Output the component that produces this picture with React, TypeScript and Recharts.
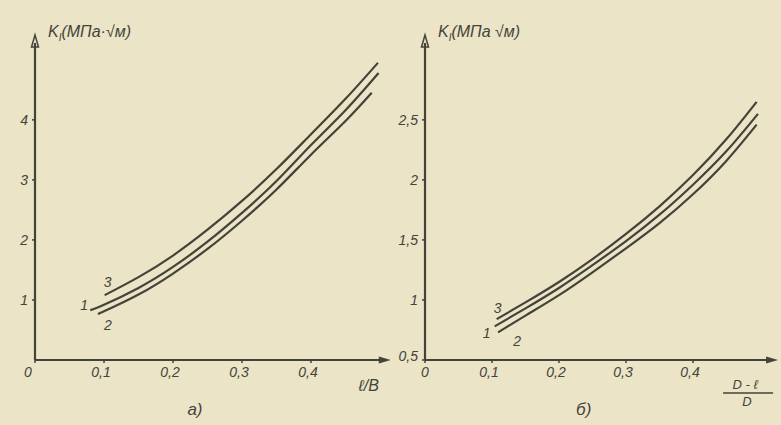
import React from 'react';
import { LineChart, Line, XAxis, YAxis, ReferenceDot } from 'recharts';

// а) K_I against l/B, curves 1, 2, 3
const aX1 = [0.08, 0.1, 0.15, 0.2, 0.25, 0.3, 0.35, 0.4, 0.45, 0.498];
const aK1 = [0.83, 0.92, 1.2, 1.55, 1.97, 2.45, 2.98, 3.58, 4.16, 4.78];
const aX2 = [0.094, 0.1, 0.15, 0.2, 0.25, 0.3, 0.35, 0.4, 0.45, 0.488];
const aK2 = [0.78, 0.81, 1.09, 1.44, 1.85, 2.32, 2.84, 3.42, 3.98, 4.45];
const aX3 = [0.101, 0.15, 0.2, 0.25, 0.3, 0.35, 0.4, 0.45, 0.497];
const aK3 = [1.08, 1.38, 1.74, 2.17, 2.65, 3.18, 3.76, 4.35, 4.95];

// б) K_I against (D-l)/D, curves 1, 2, 3
const bX1 = [0.104, 0.15, 0.2, 0.25, 0.3, 0.35, 0.4, 0.45, 0.497];
const bK1 = [0.78, 0.93, 1.1, 1.29, 1.49, 1.71, 1.96, 2.24, 2.55];
const bX2 = [0.109, 0.15, 0.2, 0.25, 0.3, 0.35, 0.4, 0.45, 0.495];
const bK2 = [0.73, 0.87, 1.04, 1.23, 1.43, 1.64, 1.88, 2.16, 2.46];
const bX3 = [0.107, 0.15, 0.2, 0.25, 0.3, 0.35, 0.4, 0.45, 0.495];
const bK3 = [0.84, 0.98, 1.15, 1.34, 1.55, 1.78, 2.04, 2.34, 2.65];

const xTicks = [0, 0.1, 0.2, 0.3, 0.4];
const aYTicks = [1, 2, 3, 4];
const bYTicks = [0.5, 1, 1.5, 2, 2.5];

const INK = '#44433a';
const PAPER = '#ebe4c7';
const FONT = '"Liberation Sans", "DejaVu Sans", sans-serif';

const toPoints = (xs: number[], ks: number[]) => xs.map((x, i) => ({ x, k: ks[i] }));
const fmt = (v: number) => String(v).replace('.', ',');

const XTick = ({ x, y, payload, zeroDx = 0 }: any) => (
  <text
    x={payload.value === 0 ? x + zeroDx : x - 3}
    y={y + 12}
    textAnchor="middle"
    fontSize={14}
    fontStyle="italic"
    fontFamily={FONT}
    fill={INK}
  >
    {fmt(payload.value)}
  </text>
);

const YTick = ({ x, y, payload, lift = 0 }: any) => (
  <text
    x={x - 2}
    y={y + 5 - (payload.value === 0.5 ? lift : 0)}
    textAnchor="end"
    fontSize={14}
    fontStyle="italic"
    fontFamily={FONT}
    fill={INK}
  >
    {fmt(payload.value)}
  </text>
);

const ArrowRight = ({ cx, cy }: any) => (
  <polygon points={`${cx + 8},${cy} ${cx - 4},${cy - 3.5} ${cx - 4},${cy + 3.5}`} fill={INK} />
);
const ArrowUp = ({ cx, cy }: any) => (
  <polygon points={`${cx},${cy - 8} ${cx - 3.5},${cy + 4} ${cx + 3.5},${cy + 4}`} fill="none" stroke={INK} strokeWidth={1.5} />
);

const curveLabel = (name: string, dx: number, dy: number) => (p: any) =>
  p.index === 0 ? (
    <text
      key={name}
      x={p.x + dx}
      y={p.y + dy}
      textAnchor="middle"
      fontSize={14}
      fontStyle="italic"
      fontFamily={FONT}
      fill={INK}
    >
      {name}
    </text>
  ) : null;

interface PanelProps {
  width: number;
  pxPerUnit: number;
  xMax: number;
  yMin: number;
  yMax: number;
  yTicks: number[];
  curves: { name: string; data: { x: number; k: number }[]; dx: number; dy: number }[];
  sep: string;
  xTitle: 'lb' | 'dl';
  caption: string;
  zeroDx: number;
  lift: number;
}

function Panel({ width, pxPerUnit, xMax, yMin, yMax, yTicks, curves, sep, xTitle, caption, zeroDx, lift }: PanelProps) {
  const yTitle = (p: any) => {
    const vb = p.viewBox || { x: 0, y: 43, width: 35 };
    return (
      <text x={vb.x + vb.width + 13} y={vb.y - 6} fontSize={16} fontStyle="italic" fontFamily={FONT} fill={INK}>
        <tspan>K</tspan>
        <tspan dy={4} fontSize={10}>I</tspan>
        <tspan dy={-4}>{`(МПа${sep}√м)`}</tspan>
      </text>
    );
  };

  const xTitleLabel = (p: any) => {
    const vb = p.viewBox || { x: 35, y: 360, width: 348 };
    const right = vb.x + vb.width;
    return (
      <g fontStyle="italic" fontFamily={FONT} fill={INK}>
        {xTitle === 'lb' ? (
          <text x={right - 14} y={vb.y + 31} textAnchor="middle" fontSize={16}>
            ℓ/B
          </text>
        ) : (
          <g>
            <text x={right - 25} y={vb.y + 29} textAnchor="middle" fontSize={13}>
              D - ℓ
            </text>
            <line x1={right - 47} x2={right + 3} y1={vb.y + 33} y2={vb.y + 33} stroke={INK} strokeWidth={1.5} />
            <text x={right - 23} y={vb.y + 46} textAnchor="middle" fontSize={13}>
              D
            </text>
          </g>
        )}
        <text x={vb.x + vb.width * 0.46} y={vb.y + 55} textAnchor="middle" fontSize={17}>
          {caption}
        </text>
      </g>
    );
  };

  return (
    <LineChart width={width} height={425} margin={{ top: 43, right: width - 35 - xMax * pxPerUnit, bottom: 0, left: 0 }}>
      <XAxis
        type="number"
        dataKey="x"
        domain={[0, xMax]}
        ticks={xTicks}
        allowDataOverflow
        height={65}
        axisLine={{ stroke: INK, strokeWidth: 2.2 }}
        tickLine={{ stroke: INK, strokeWidth: 1.5 }}
        tickSize={3}
        tick={<XTick zeroDx={zeroDx} />}
        label={xTitleLabel}
      />
      <YAxis
        type="number"
        dataKey="k"
        domain={[yMin, yMax]}
        ticks={yTicks}
        allowDataOverflow
        width={35}
        axisLine={{ stroke: INK, strokeWidth: 2.2 }}
        tickLine={{ stroke: INK, strokeWidth: 1.5 }}
        tickSize={3}
        tick={<YTick lift={lift} />}
        label={yTitle}
      />
      {curves.map((c) => (
        <Line
          key={c.name}
          data={c.data}
          dataKey="k"
          type="natural"
          stroke={INK}
          strokeWidth={2.2}
          dot={false}
          isAnimationActive={false}
          label={curveLabel(c.name, c.dx, c.dy)}
        />
      ))}
      <ReferenceDot x={xMax} y={yMin} r={0} ifOverflow="visible" shape={<ArrowRight />} />
      <ReferenceDot x={0} y={yMax} r={0} ifOverflow="visible" shape={<ArrowUp />} />
    </LineChart>
  );
}

export default function App() {
  return (
    <div style={{ width: 781, height: 425, background: PAPER, display: 'flex', overflow: 'hidden' }}>
      <style>{'body{margin:0}'}</style>
      <Panel
        width={390}
        pxPerUnit={690}
        xMax={0.504}
        yMin={0}
        yMax={5.28}
        yTicks={aYTicks}
        sep="·"
        xTitle="lb"
        caption="а)"
        zeroDx={-7}
        lift={0}
        curves={[
          { name: '1', data: toPoints(aX1, aK1), dx: -6, dy: 0 },
          { name: '2', data: toPoints(aX2, aK2), dx: 8, dy: 17 },
          { name: '3', data: toPoints(aX3, aK3), dx: 3, dy: -8 },
        ]}
      />
      <Panel
        width={391}
        pxPerUnit={670}
        xMax={0.515}
        yMin={0.5}
        yMax={3.14}
        yTicks={bYTicks}
        sep=" "
        xTitle="dl"
        caption="б)"
        zeroDx={0}
        lift={4}
        curves={[
          { name: '1', data: toPoints(bX1, bK1), dx: -8, dy: 12 },
          { name: '2', data: toPoints(bX2, bK2), dx: 19, dy: 14 },
          { name: '3', data: toPoints(bX3, bK3), dx: 1, dy: -6 },
        ]}
      />
    </div>
  );
}
